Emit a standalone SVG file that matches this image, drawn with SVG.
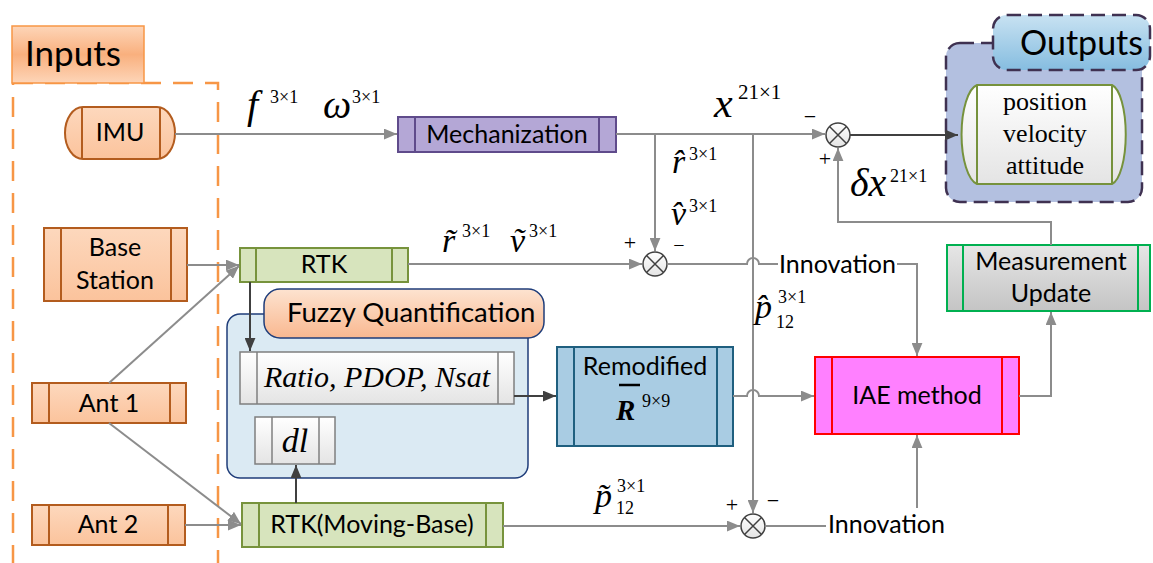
<svg xmlns="http://www.w3.org/2000/svg" width="1153" height="563" viewBox="0 0 1153 563">
<defs>
<linearGradient id="gOr" x1="0" y1="0" x2="0" y2="1"><stop offset="0" stop-color="#fdd8bd"/><stop offset="1" stop-color="#fbc39c"/></linearGradient>
<linearGradient id="gInp" x1="0" y1="0" x2="0" y2="1"><stop offset="0" stop-color="#fdd5b8"/><stop offset="0.5" stop-color="#f9b07e"/><stop offset="1" stop-color="#fdd5b8"/></linearGradient>
<linearGradient id="gFz" x1="0" y1="0" x2="0" y2="1"><stop offset="0" stop-color="#fde3d0"/><stop offset="1" stop-color="#f9b890"/></linearGradient>
<linearGradient id="gOut" x1="0" y1="0" x2="0" y2="1"><stop offset="0" stop-color="#c8e2f2"/><stop offset="1" stop-color="#86bde0"/></linearGradient>
<linearGradient id="gGr" x1="0" y1="0" x2="0" y2="1"><stop offset="0" stop-color="#e6e6e6"/><stop offset="1" stop-color="#c4c4c4"/></linearGradient>
<linearGradient id="gWh" x1="0" y1="0" x2="0" y2="1"><stop offset="0" stop-color="#ffffff"/><stop offset="1" stop-color="#e4e4e4"/></linearGradient>
<marker id="ag" viewBox="0 0 12 10" refX="12" refY="5" markerWidth="13" markerHeight="11" markerUnits="userSpaceOnUse" orient="auto"><path d="M0,0 L12,5 L0,10 Z" fill="#8c8c8c"/></marker>
<marker id="ad" viewBox="0 0 12 10" refX="12" refY="5" markerWidth="13" markerHeight="11" markerUnits="userSpaceOnUse" orient="auto"><path d="M0,0 L12,5 L0,10 Z" fill="#404040"/></marker>
<style>
.s{font-family:Lato,"Liberation Sans",sans-serif;font-size:25px;fill:#000}
.m{font-family:"Liberation Serif",serif;font-style:italic;fill:#000}
.r{font-family:"Liberation Serif",serif;fill:#000}
.up{font-style:normal;font-size:18px}
.cg{fill:none;stroke:#8c8c8c;stroke-width:2}
.cd{fill:none;stroke:#404040;stroke-width:2}
.inp{fill:url(#gOr);stroke:#b35c1e;stroke-width:2}
.il{stroke:#b35c1e;stroke-width:2}
.sum{fill:url(#gWh);stroke:#404040;stroke-width:1.5}
</style>
</defs>

<g id="inputs">
<rect x="13" y="83" width="205" height="500" fill="none" stroke="#f79646" stroke-width="2.5" stroke-dasharray="20 12"/>
<rect x="12" y="26" width="132" height="57" fill="url(#gInp)" stroke="#f79646" stroke-width="1.5"/>
<text class="s" x="25" y="66" style="font-size:35px">Inputs</text>
</g>

<g id="imu">
<rect x="65" y="107" width="110" height="52" rx="18" ry="26" class="inp"/>
<line x1="82" y1="107" x2="82" y2="159" class="il"/><line x1="160" y1="107" x2="160" y2="159" class="il"/>
<text class="s" x="120" y="141" text-anchor="middle">IMU</text>
</g>

<g id="base">
<rect x="44" y="228" width="143" height="73" class="inp"/>
<line x1="61" y1="228" x2="61" y2="301" class="il"/><line x1="171" y1="228" x2="171" y2="301" class="il"/>
<text class="s" x="115" y="256" text-anchor="middle">Base</text>
<text class="s" x="115" y="289" text-anchor="middle">Station</text>
</g>

<g id="ant1">
<rect x="32" y="383" width="154" height="40" class="inp"/>
<line x1="49" y1="383" x2="49" y2="423" class="il"/><line x1="170" y1="383" x2="170" y2="423" class="il"/>
<text class="s" x="109" y="412" text-anchor="middle">Ant 1</text>
</g>

<g id="ant2">
<rect x="32" y="505" width="153" height="40" class="inp"/>
<line x1="49" y1="505" x2="49" y2="545" class="il"/><line x1="168" y1="505" x2="168" y2="545" class="il"/>
<text class="s" x="108" y="533" text-anchor="middle">Ant 2</text>
</g>

<g id="mech">
<rect x="398" y="117" width="218" height="35" fill="#b4a7d6" stroke="#5f4b8b" stroke-width="2"/>
<line x1="415" y1="117" x2="415" y2="152" stroke="#5f4b8b" stroke-width="2"/><line x1="599" y1="117" x2="599" y2="152" stroke="#5f4b8b" stroke-width="2"/>
<text class="s" x="507" y="143" text-anchor="middle">Mechanization</text>
</g>

<g id="rtk">
<rect x="240" y="248" width="168" height="34" fill="#d7e4bd" stroke="#77933c" stroke-width="2"/>
<line x1="256" y1="248" x2="256" y2="282" stroke="#77933c" stroke-width="2"/><line x1="392" y1="248" x2="392" y2="282" stroke="#77933c" stroke-width="2"/>
<text class="s" x="324" y="273" text-anchor="middle">RTK</text>
</g>

<g id="fuzzy">
<rect x="227" y="314" width="301" height="164" rx="13" fill="#dbeaf3" stroke="#1f3d7a" stroke-width="1.5"/>
<rect x="264" y="289" width="280" height="49" rx="16" fill="url(#gFz)" stroke="#1f3d7a" stroke-width="1.5"/>
<text class="s" x="287" y="322" style="font-size:27.5px">Fuzzy Quantification</text>
</g>

<g id="ratio">
<rect x="240" y="352" width="274" height="52" fill="url(#gWh)" stroke="#7f7f7f" stroke-width="1.5"/>
<line x1="257" y1="352" x2="257" y2="404" stroke="#7f7f7f" stroke-width="1.5"/><line x1="498" y1="352" x2="498" y2="404" stroke="#7f7f7f" stroke-width="1.5"/>
<text class="m" x="377" y="387" text-anchor="middle" font-size="30">Ratio, PDOP, Nsat</text>
</g>

<g id="dl">
<rect x="255" y="417" width="80" height="47" fill="url(#gWh)" stroke="#7f7f7f" stroke-width="1.5"/>
<line x1="272" y1="417" x2="272" y2="464" stroke="#7f7f7f" stroke-width="1.5"/><line x1="319" y1="417" x2="319" y2="464" stroke="#7f7f7f" stroke-width="1.5"/>
<text class="m" x="295" y="452" text-anchor="middle" font-size="34">dl</text>
</g>

<g id="rtkmb">
<rect x="242" y="503" width="261" height="44" fill="#d7e4bd" stroke="#77933c" stroke-width="2"/>
<line x1="259" y1="503" x2="259" y2="547" stroke="#77933c" stroke-width="2"/><line x1="486" y1="503" x2="486" y2="547" stroke="#77933c" stroke-width="2"/>
<text class="s" x="372" y="533" text-anchor="middle">RTK(Moving-Base)</text>
</g>

<g id="remod">
<rect x="557" y="347" width="176" height="99" fill="#a9cce3" stroke="#1f5f7f" stroke-width="2"/>
<line x1="574" y1="347" x2="574" y2="446" stroke="#1f5f7f" stroke-width="2"/><line x1="717" y1="347" x2="717" y2="446" stroke="#1f5f7f" stroke-width="2"/>
<text class="s" x="645" y="375" text-anchor="middle">Remodified</text>
<text class="m" x="616" y="420" font-size="29" font-weight="bold">R<tspan class="up" x="642" y="407" font-weight="normal">9×9</tspan></text>
<line x1="619" y1="385" x2="640" y2="385" stroke="#000" stroke-width="2.5"/>
</g>

<g id="iae">
<rect x="815" y="357" width="204" height="77" fill="#ff80ff" stroke="#ff0000" stroke-width="2"/>
<line x1="832" y1="357" x2="832" y2="434" stroke="#ff0000" stroke-width="2"/><line x1="1002" y1="357" x2="1002" y2="434" stroke="#ff0000" stroke-width="2"/>
<text class="s" x="917" y="404" text-anchor="middle">IAE method</text>
</g>

<g id="mu">
<rect x="947" y="245" width="203" height="66" fill="url(#gGr)" stroke="#00b050" stroke-width="2"/>
<line x1="963" y1="245" x2="963" y2="311" stroke="#00b050" stroke-width="2"/><line x1="1138" y1="245" x2="1138" y2="311" stroke="#00b050" stroke-width="2"/>
<text class="s" x="1051" y="270" text-anchor="middle">Measurement</text>
<text class="s" x="1051" y="302" text-anchor="middle">Update</text>
</g>

<g id="outputs">
<rect x="946" y="43" width="196" height="159" rx="14" fill="#b3c0e0" stroke="#3f3151" stroke-width="2.5" stroke-dasharray="14 7"/>
<rect x="993" y="15" width="157" height="55" rx="14" fill="url(#gOut)" stroke="#3f3151" stroke-width="2.5" stroke-dasharray="14 7"/>
<text class="s" x="1020" y="55" style="font-size:34px">Outputs</text>
<path d="M977,85 H1112 A16,50 0 0 1 1112,184 H977 A18,50 0 0 1 977,85 Z" fill="url(#gWh)" stroke="#76923c" stroke-width="2"/>
<line x1="977" y1="85" x2="977" y2="184" stroke="#76923c" stroke-width="2"/><line x1="1112" y1="85" x2="1112" y2="184" stroke="#76923c" stroke-width="2"/>
<text class="r" x="1045" y="110" text-anchor="middle" font-size="26">position</text>
<text class="r" x="1045" y="142" text-anchor="middle" font-size="26">velocity</text>
<text class="r" x="1045" y="174" text-anchor="middle" font-size="26">attitude</text>
</g>

<g id="sum1"><circle cx="838" cy="135" r="12" class="sum"/><path d="M829.5,126.5 L846.5,143.5 M846.5,126.5 L829.5,143.5" stroke="#404040" stroke-width="1.5"/></g>
<g id="sum2"><circle cx="655" cy="264" r="12" class="sum"/><path d="M646.5,255.5 L663.5,272.5 M663.5,255.5 L646.5,272.5" stroke="#404040" stroke-width="1.5"/></g>
<g id="sum3"><circle cx="753" cy="526" r="12" class="sum"/><path d="M744.5,517.5 L761.5,534.5 M761.5,517.5 L744.5,534.5" stroke="#404040" stroke-width="1.5"/></g>

<g id="connectors">
<path class="cg" d="M175,134 H397" marker-end="url(#ag)"/>
<path class="cg" d="M616,134 H825" marker-end="url(#ag)"/>
<path class="cg" d="M655,134 V251" marker-end="url(#ag)"/>
<path class="cg" d="M753,134 V513" marker-end="url(#ag)"/>
<path class="cd" d="M850,135 H958" marker-end="url(#ad)"/>
<path class="cg" d="M1051,245 V222 H838 V148" marker-end="url(#ag)"/>
<path class="cg" d="M187,265 H239" marker-end="url(#ag)"/>
<path class="cg" d="M109,383 L239,266" marker-end="url(#ag)"/>
<path class="cg" d="M408,264 H642" marker-end="url(#ag)"/>
<path class="cg" d="M667,264 H747 A6,6 0 0 1 759,264 H778"/>
<path class="cg" d="M897,264 H917 V356" marker-end="url(#ag)"/>
<path class="cd" d="M250,282 V351" marker-end="url(#ad)"/>
<path class="cd" d="M514,396 H556" marker-end="url(#ad)"/>
<path class="cd" d="M296,503 V465" marker-end="url(#ad)"/>
<path class="cg" d="M733,396 H747 A6,6 0 0 1 759,396 H814" marker-end="url(#ag)"/>
<path class="cg" d="M1019,396 H1051 V312" marker-end="url(#ag)"/>
<path class="cg" d="M109,423 L241,524" marker-end="url(#ag)"/>
<path class="cg" d="M185,525 H241" marker-end="url(#ag)"/>
<path class="cg" d="M503,526 H740" marker-end="url(#ag)"/>
<path class="cg" d="M765,526 H826"/>
<path class="cg" d="M917,508 V435" marker-end="url(#ag)"/>
</g>

<g id="labels">
<text class="s" x="779" y="273">Innovation</text>
<text class="s" x="828" y="533">Innovation</text>
<text class="m" x="247" y="118" font-size="40">f<tspan class="up" x="270" y="103">3×1</tspan></text>
<text class="m" x="323" y="118" font-size="40">ω<tspan class="up" x="352" y="103">3×1</tspan></text>
<text class="m" x="714" y="117" font-size="42">x<tspan class="up" x="738" y="99" style="font-size:21px">21×1</tspan></text>
<text class="m" x="672" y="173" font-size="34">r̂<tspan class="up" x="689" y="160">3×1</tspan></text>
<text class="m" x="671" y="225" font-size="34">v̂<tspan class="up" x="689" y="212">3×1</tspan></text>
<text class="m" x="442" y="252" font-size="34">r̃<tspan class="up" x="462" y="237">3×1</tspan></text>
<text class="m" x="510" y="252" font-size="34">ṽ<tspan class="up" x="529" y="237">3×1</tspan></text>
<text class="m" x="850" y="196" font-size="40">δx<tspan class="up" x="890" y="182">21×1</tspan></text>
<text class="m" x="755" y="318" font-size="34">p̂<tspan class="up" x="778" y="303">3×1</tspan><tspan class="up" x="776" y="328">12</tspan></text>
<text class="m" x="595" y="507" font-size="34">p̃<tspan class="up" x="617" y="492">3×1</tspan><tspan class="up" x="616" y="514">12</tspan></text>
<text class="r" x="810" y="124" font-size="22" text-anchor="middle">−</text>
<text class="r" x="825" y="166" font-size="22" text-anchor="middle">+</text>
<text class="r" x="630" y="250" font-size="22" text-anchor="middle">+</text>
<text class="r" x="679" y="252" font-size="20" text-anchor="middle">−</text>
<text class="r" x="732" y="512" font-size="22" text-anchor="middle">+</text>
<text class="r" x="773" y="508" font-size="22" text-anchor="middle">−</text>
</g>
</svg>
